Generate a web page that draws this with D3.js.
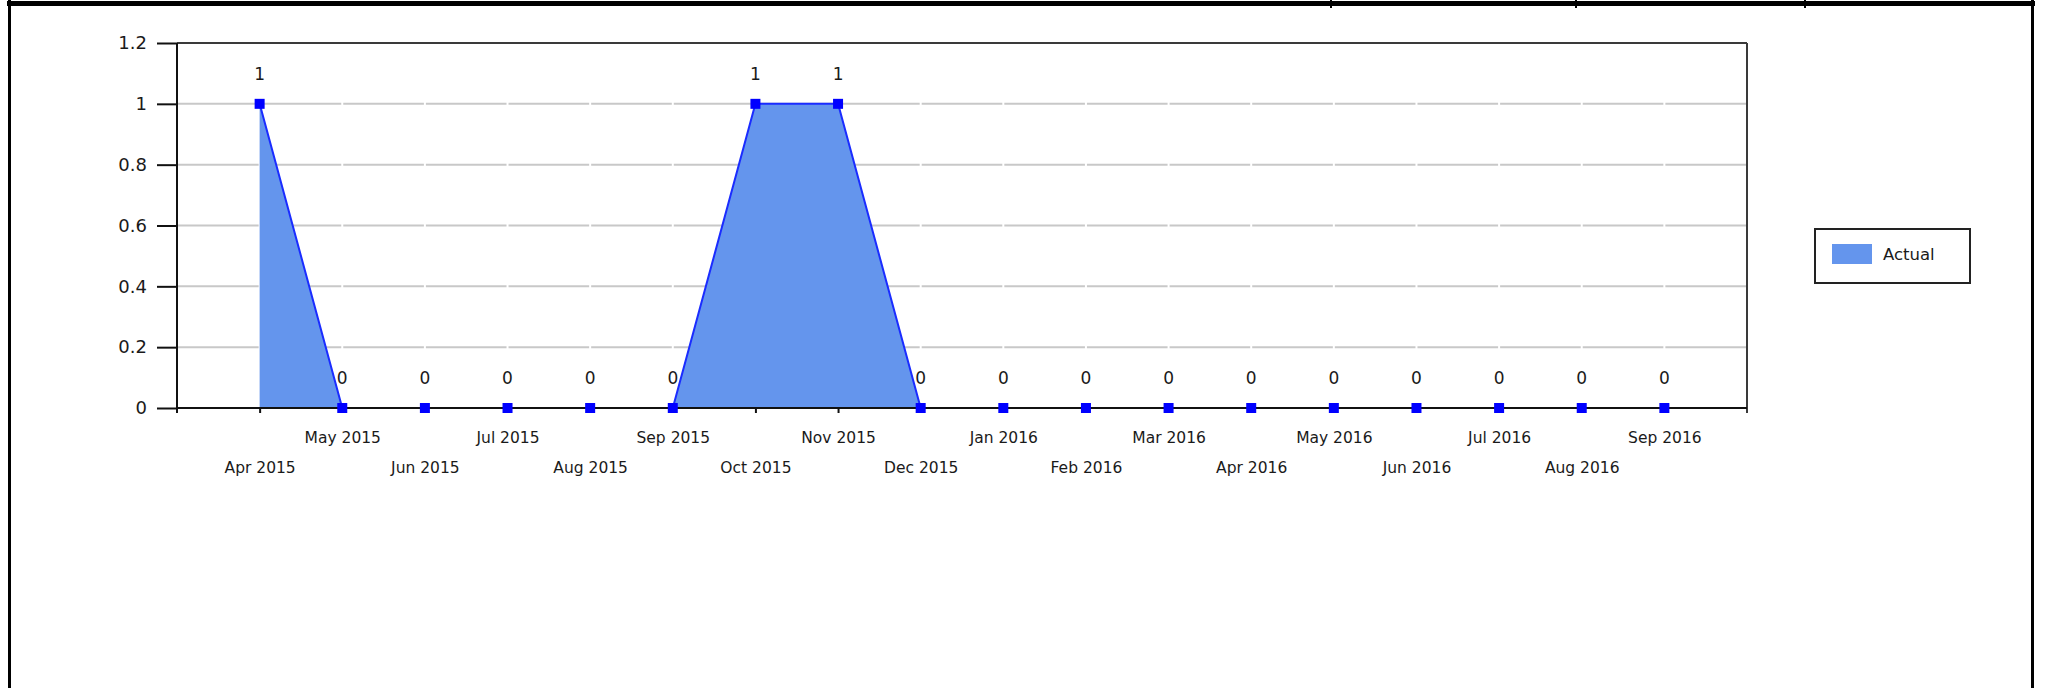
<!DOCTYPE html>
<html>
<head>
<meta charset="utf-8">
<script src="https://cdn.jsdelivr.net/npm/d3@7"></script>
<style>
html,body{margin:0;padding:0;background:#fff;}
svg{display:block;}
text{font-family:"DejaVu Sans",Verdana,sans-serif;fill:#1a1a1a;}
</style>
</head>
<body>
<script>
const months = ["Apr 2015","May 2015","Jun 2015","Jul 2015","Aug 2015","Sep 2015","Oct 2015","Nov 2015","Dec 2015",
  "Jan 2016","Feb 2016","Mar 2016","Apr 2016","May 2016","Jun 2016","Jul 2016","Aug 2016","Sep 2016"];
const actual = [1,0,0,0,0,0,1,1,0,0,0,0,0,0,0,0,0,0];
const yTicks = [0,0.2,0.4,0.6,0.8,1,1.2];
const seriesName = "Actual";

const W = 2050, H = 688;
const plot = {left:177, right:1747, top:43, bottom:408};

const svg = d3.select("body").append("svg").attr("width",W).attr("height",H);

// outer frame
svg.append("rect").attr("x",7).attr("y",1).attr("width",2028).attr("height",5).attr("fill","#000");
svg.append("rect").attr("x",8).attr("y",0).attr("width",3).attr("height",H).attr("fill","#000");
svg.append("rect").attr("x",2031).attr("y",0).attr("width",3).attr("height",H).attr("fill","#000");
[1330,1575,1804].forEach(px=>{
  svg.append("rect").attr("x",px).attr("y",0).attr("width",2).attr("height",8).attr("fill","#000");
});

const x = d3.scalePoint().domain(months).range([plot.left, plot.right]).padding(1);
const y = d3.scaleLinear().domain([0,1.2]).range([plot.bottom, plot.top]);

// gridlines (segmented between category positions)
const gridG = svg.append("g");
const stops = [plot.left, ...months.map(m=>x(m)), plot.right];
yTicks.filter(t=>t>0 && t<1.2).forEach(t=>{
  for(let i=0;i<stops.length-1;i++){
    gridG.append("line")
      .attr("x1", stops[i]+ (i===0?0:1)).attr("x2", stops[i+1]-1)
      .attr("y1", y(t)).attr("y2", y(t))
      .attr("stroke","#c8c8c8").attr("stroke-width",2);
  }
});

// plot border top/right
svg.append("line").attr("x1",plot.left).attr("x2",plot.right).attr("y1",y(1.2)).attr("y2",y(1.2))
  .attr("stroke","#3a3a3a").attr("stroke-width",2);
svg.append("line").attr("x1",plot.right).attr("x2",plot.right).attr("y1",plot.top).attr("y2",plot.bottom+5)
  .attr("stroke","#3a3a3a").attr("stroke-width",2);

// area + line
const area = d3.area().x((d,i)=>x(months[i])).y0(y(0)).y1(d=>y(d));
const line = d3.line().x((d,i)=>x(months[i])).y(d=>y(d));
svg.append("path").datum(actual).attr("d",area).attr("fill","#6495ED");
svg.append("path").datum(actual).attr("d",line).attr("fill","none").attr("stroke","#1a2cff").attr("stroke-width",2);

// y axis
const yAxis = d3.axisLeft(y).tickValues(yTicks).tickSize(20).tickPadding(10).tickFormat(d3.format("~g"));
const yg = svg.append("g").attr("transform",`translate(${plot.left},0)`).call(yAxis);
yg.select(".domain").remove();
yg.selectAll(".tick line").attr("stroke","#111").attr("stroke-width",2);
yg.selectAll(".tick text").style("font-size","18px").attr("fill","#1a1a1a");
svg.append("line").attr("x1",plot.left).attr("x2",plot.left).attr("y1",plot.top).attr("y2",plot.bottom+5)
  .attr("stroke","#111").attr("stroke-width",2);

// x axis
const xAxis = d3.axisBottom(x).tickSize(5).tickSizeOuter(0);
const xg = svg.append("g").attr("transform",`translate(0,${plot.bottom})`).call(xAxis);
xg.select(".domain").remove();
xg.selectAll(".tick line").attr("stroke","#111").attr("stroke-width",2);
xg.selectAll(".tick text").style("font-size","15.5px").attr("fill","#1a1a1a")
  .attr("y",(d,i)=> i%2===0 ? 54 : 24).attr("dy","0.71em");
svg.append("line").attr("x1",plot.left).attr("x2",plot.right).attr("y1",plot.bottom).attr("y2",plot.bottom)
  .attr("stroke","#111").attr("stroke-width",2);

// markers
svg.append("g").selectAll("rect").data(actual).join("rect")
  .attr("x",(d,i)=>x(months[i])-5).attr("y",d=>y(d)-5).attr("width",10).attr("height",10).attr("fill","#0000ff");

// data labels
svg.append("g").selectAll("text").data(actual).join("text")
  .attr("x",(d,i)=>x(months[i])).attr("y",d=>y(d)-30).attr("dy","0.35em")
  .attr("text-anchor","middle").style("font-size","17px").text(d=>d);

// legend
const lg = svg.append("g");
lg.append("rect").attr("x",1815).attr("y",229).attr("width",155).attr("height",54)
  .attr("fill","#fff").attr("stroke","#222").attr("stroke-width",2);
lg.append("rect").attr("x",1832).attr("y",244).attr("width",40).attr("height",20).attr("fill","#6495ED");
lg.append("text").attr("x",1883).attr("y",254).attr("dy","0.35em").style("font-size","16.5px").text(seriesName);
</script>
</body>
</html>
